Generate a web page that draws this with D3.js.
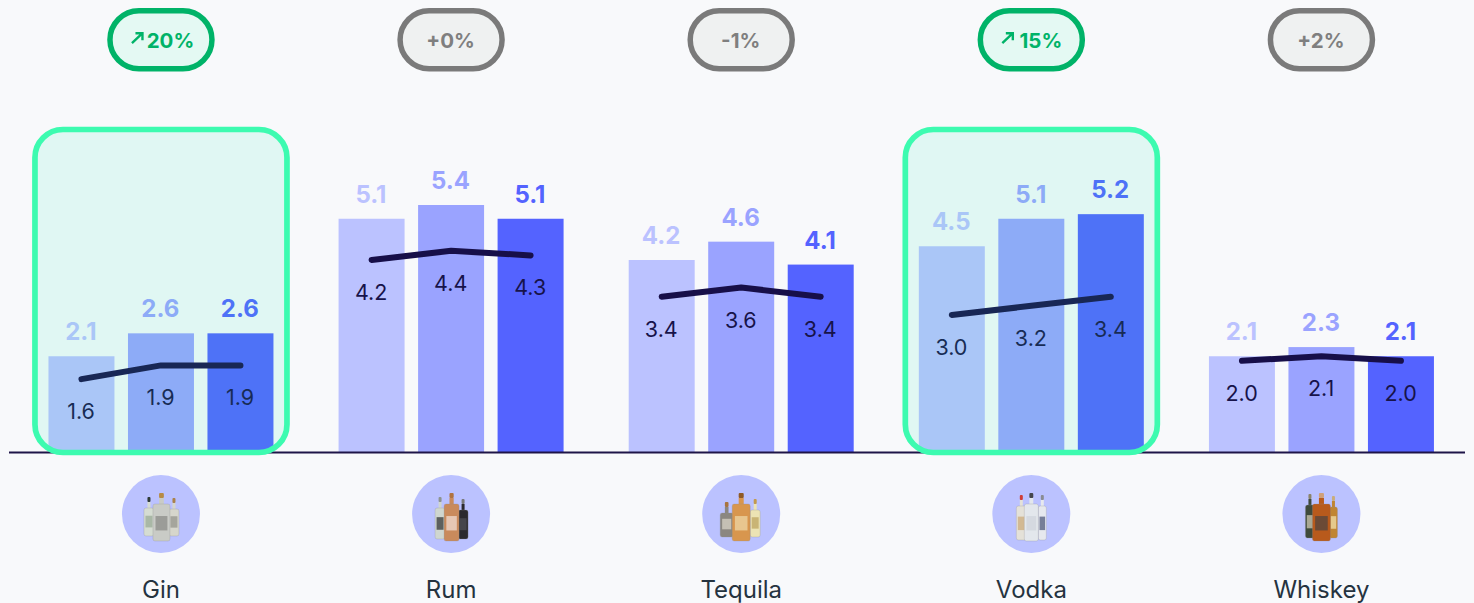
<!DOCTYPE html>
<html>
<head>
<meta charset="utf-8">
<script src="https://cdn.jsdelivr.net/npm/d3@7"></script>
<style>
  html, body { margin: 0; padding: 0; background: #f8f9fb; overflow: hidden; }
  svg { display: block; font-family: Inter, "Noto Sans", sans-serif; }
</style>
</head>
<body>
<div id="chart"></div>
<script>
// values
const categories = ["Gin", "Rum", "Tequila", "Vodka", "Whiskey"];
const seriesNames = ["first", "second", "third"];
const firstValues = [2.1, 5.1, 4.2, 4.5, 2.1];
const secondValues = [2.6, 5.4, 4.6, 5.1, 2.3];
const thirdValues = [2.6, 5.1, 4.1, 5.2, 2.1];
const lineFirst = [1.6, 4.2, 3.4, 3.0, 2.0];
const lineSecond = [1.9, 4.4, 3.6, 3.2, 2.1];
const lineThird = [1.9, 4.3, 3.4, 3.4, 2.0];
const changes = [20, 0, -1, 15, 2];
const highlighted = ["Gin", "Vodka"];

const barColors = ["#bbc2ff", "#9aa3ff", "#5463ff"];

// bottle pictures under the bars: [left, right, middle], drawn back to front
const bottles = {
    Gin: [
        { x0: -17, x1: -7, top: -17, bot: 22, glass: "#d5dcd2", cap: "#2e3a36", tag: "#a9b8a6" },
        { x0: 8, x1: 18, top: -16, bot: 22, glass: "#d6d6cc", cap: "#a9824a", tag: "#a5a59c" },
        { x0: -8, x1: 9, top: -21, bot: 27, glass: "#c9cbc6", cap: "#b78b45", tag: "#9b9c98" }
    ],
    Rum: [
        { x0: -16, x1: -6, top: -17, bot: 25, glass: "#cfd6cf", cap: "#8d9490", tag: "#5c605e" },
        { x0: 7, x1: 17, top: -15, bot: 25, glass: "#2b2a2e", cap: "#77787a", tag: "#45454a" },
        { x0: -7, x1: 8, top: -21, bot: 27, glass: "#c98a5c", cap: "#b0733f", tag: "#e6c7b4" }
    ],
    Tequila: [
        { x0: -21, x1: -8, top: -12, bot: 23, glass: "#8b8780", cap: "#a8743f", tag: "#c5c0b4" },
        { x0: 9, x1: 19, top: -15, bot: 23, glass: "#ece3b4", cap: "#c39a4c", tag: "#c9b475" },
        { x0: -9, x1: 9, top: -21, bot: 27, glass: "#d8964e", cap: "#8f5a26", tag: "#e8c68f" }
    ],
    Vodka: [
        { x0: -15, x1: -5, top: -19, bot: 26, glass: "#e4e1d8", cap: "#cf3d36", tag: "#d2b993" },
        { x0: 7, x1: 15, top: -19, bot: 26, glass: "#e6e8ee", cap: "#8a8c92", tag: "#767e98" },
        { x0: -7, x1: 7, top: -21, bot: 27, glass: "#e3e7ec", cap: "#45474c", tag: "#d5d9e0" }
    ],
    Whiskey: [
        { x0: -16, x1: -7, top: -20, bot: 24, glass: "#3e4a3c", cap: "#8b8469", tag: "#a9a894" },
        { x0: 8, x1: 16, top: -18, bot: 24, glass: "#c08534", cap: "#c9ad7c", tag: "#e5c98c" },
        { x0: -9, x1: 9, top: -21, bot: 27, glass: "#b85a1c", cap: "#cfa07a", tag: "#6b4a36" }
    ]
};

const width = 1474, height = 603;

const svg = d3.select("#chart").append("svg")
    .attr("width", width)
    .attr("height", height);

const barValues = [firstValues, secondValues, thirdValues];
const lineValues = [lineFirst, lineSecond, lineThird];

const x0 = d3.scaleBand().domain(categories).range([15.9, 1466.5]);
const x1 = d3.scaleBand().domain(seriesNames).range([-112.5, 112.5]).paddingInner(0.17);
const y = d3.scaleLinear().domain([0, 5.4]).range([452.5, 205]);
const center = c => x0(c) + x0.bandwidth() / 2;

// bars and their labels
const groups = svg.selectAll(".group")
    .data(categories)
    .enter().append("g")
    .attr("class", "group")
    .attr("transform", d => `translate(${center(d)},0)`);

seriesNames.forEach((s, si) => {
    groups.append("rect")
        .attr("x", x1(s))
        .attr("width", x1.bandwidth())
        .attr("y", (d, i) => y(barValues[si][i]))
        .attr("height", (d, i) => y(0) - y(barValues[si][i]))
        .attr("fill", barColors[si]);

    groups.append("text")
        .attr("x", x1(s) + x1.bandwidth() / 2 - 0.6)
        .attr("y", (d, i) => y(barValues[si][i]) - 16)
        .attr("text-anchor", "middle")
        .style("font-size", "24px")
        .style("font-weight", 700)
        .attr("fill", barColors[si])
        .text((d, i) => barValues[si][i].toFixed(1));

    groups.append("text")
        .attr("x", x1(s) + x1.bandwidth() / 2 - 0.4)
        .attr("y", (d, i) => y(lineValues[si][i]) + 40)
        .attr("text-anchor", "middle")
        .style("font-size", "21.5px")
        .attr("fill", "#17134a")
        .text((d, i) => lineValues[si][i].toFixed(1));
});

// line across each group
const line = d3.line()
    .x((d, i) => x1(seriesNames[i]) + x1.bandwidth() / 2)
    .y(d => y(d));

groups.append("path")
    .attr("d", (d, i) => line(lineValues.map(v => v[i])))
    .attr("fill", "none")
    .attr("stroke", "#170f49")
    .attr("stroke-width", 6)
    .attr("stroke-linecap", "round")
    .attr("stroke-linejoin", "round");

// baseline
svg.append("line")
    .attr("x1", 9).attr("x2", 1465)
    .attr("y1", y(0)).attr("y2", y(0))
    .attr("stroke", "#1e1548")
    .attr("stroke-width", 2);

// category labels
const xAxis = svg.append("g")
    .attr("transform", `translate(0,${y(0)})`)
    .call(d3.axisBottom(x0).tickSize(0));
xAxis.select(".domain").remove();
xAxis.selectAll("text")
    .attr("y", 145.5)
    .attr("dy", 0)
    .style("font-family", "Inter, 'Noto Sans', sans-serif")
    .style("font-size", "24px")
    .attr("fill", "#25333f");

// round icons with bottles
const icons = svg.selectAll(".icon")
    .data(categories)
    .enter().append("g")
    .attr("class", "icon")
    .attr("transform", d => `translate(${center(d)},514)`);

icons.append("circle").attr("r", 39).attr("fill", "#bbc2ff");

icons.each(function(c) {
    const g = d3.select(this);
    bottles[c].forEach(b => {
        const w = b.x1 - b.x0, mid = (b.x0 + b.x1) / 2, neck = Math.max(3, w * 0.28);
        g.append("rect")
            .attr("x", mid - neck / 2).attr("y", b.top)
            .attr("width", neck).attr("height", 5)
            .attr("rx", 1)
            .attr("fill", b.cap);
        g.append("rect")
            .attr("x", mid - neck / 2).attr("y", b.top + 5)
            .attr("width", neck).attr("height", 8)
            .attr("fill", b.glass);
        g.append("rect")
            .attr("x", b.x0).attr("y", b.top + 11)
            .attr("width", w).attr("height", b.bot - b.top - 11)
            .attr("rx", 2)
            .attr("fill", b.glass)
            .attr("stroke", "#8f8f8f")
            .attr("stroke-opacity", 0.45)
            .attr("stroke-width", 0.6);
        g.append("rect")
            .attr("x", b.x0 + w * 0.15).attr("y", b.top + (b.bot - b.top) * 0.48)
            .attr("width", w * 0.7).attr("height", (b.bot - b.top) * 0.3)
            .attr("fill", b.tag);
    });
});

// highlight boxes sit on top of the bars
svg.selectAll(".highlight")
    .data(highlighted)
    .enter().append("rect")
    .attr("class", "highlight")
    .attr("x", d => center(d) - 126)
    .attr("y", 129.5)
    .attr("width", 252)
    .attr("height", 323)
    .attr("rx", 28)
    .attr("fill", "#28f0b4")
    .attr("fill-opacity", 0.11)
    .attr("stroke", "#3dfbb0")
    .attr("stroke-width", 5.7);

// change badges
const isUp = v => v > 5;
const badges = svg.selectAll(".badge")
    .data(categories)
    .enter().append("g")
    .attr("class", "badge")
    .attr("transform", d => `translate(${center(d)},39.7)`);

badges.append("rect")
    .attr("x", -51).attr("y", -29)
    .attr("width", 102).attr("height", 58)
    .attr("rx", 29)
    .attr("fill", (d, i) => isUp(changes[i]) ? "#e4f9f3" : "#eff1f1")
    .attr("stroke", (d, i) => isUp(changes[i]) ? "#00b368" : "#7a7a7a")
    .attr("stroke-width", 5.5);

badges.append("text")
    .attr("x", (d, i) => isUp(changes[i]) ? 9.5 : -0.5)
    .attr("y", 8.3)
    .attr("text-anchor", "middle")
    .style("font-size", "20.5px")
    .style("font-weight", 700)
    .attr("fill", (d, i) => isUp(changes[i]) ? "#00b368" : "#7f7f7f")
    .text((d, i) => isUp(changes[i]) ? `${changes[i]}%` : `${changes[i] < 0 ? "-" : "+"}${Math.abs(changes[i])}%`);

badges.filter((d, i) => isUp(changes[i])).append("path")
    .attr("d", "M-29,3.5L-19,-6M-25.5,-6.5H-18.5V0.5")
    .attr("fill", "none")
    .attr("stroke", "#00b368")
    .attr("stroke-width", 2.4);
</script>
</body>
</html>
